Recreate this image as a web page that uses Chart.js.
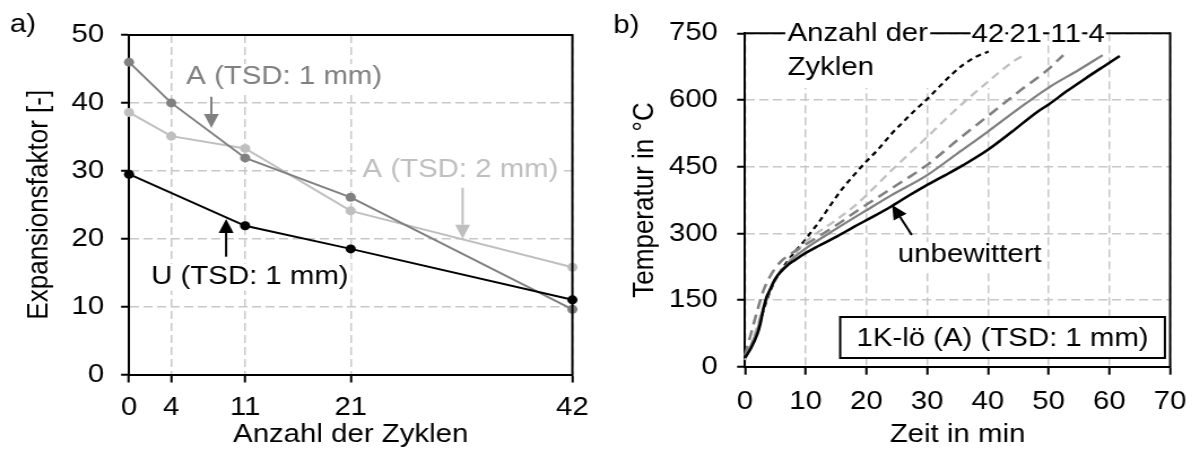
<!DOCTYPE html>
<html>
<head>
<meta charset="utf-8">
<script src="https://cdn.jsdelivr.net/npm/chart.js@4/dist/chart.umd.min.js"></script>
<style>
  html, body { margin: 0; padding: 0; background: #fff; }
  body { width: 1200px; height: 450px; position: relative; overflow: hidden; }
  /* the original figure is slightly wider than tall in its lettering: stretch each canvas a bit */
  canvas { position: absolute; top: 0; transform-origin: 0 0; transform: scaleX(1.13); }
  #chartA { left: 0; }
  #chartB { left: 600px; }
</style>
</head>
<body>
<canvas id="chartA" width="531" height="450" style="width:531px;height:450px"></canvas>
<canvas id="chartB" width="531" height="450" style="width:531px;height:450px"></canvas>
<script>
// a) Expansionsfaktor über Anzahl der Zyklen
var ZYKLEN   = [0, 4, 11, 21, 42];
var A_TSD1   = [46.0, 40.0, 31.9, 26.1, 9.6];
var A_TSD2   = [38.6, 35.1, 33.3, 24.1, 15.8];
var U_ZYKLEN = [0, 11, 21, 42];
var U_TSD1   = [29.5, 21.9, 18.5, 11.0];
var X_TICKS_A = [0, 4, 11, 21, 42];

// b) Temperaturverlauf, 1K-lö (A) (TSD: 1 mm)
var ZEIT_UNBEW = [0, 1, 2, 2.5, 3, 3.5, 4, 5, 6, 7, 8, 10, 12, 15, 18, 21, 24, 27, 30, 33, 36, 40, 44, 48, 50, 53, 56, 59, 61.7];
var TEMP_UNBEW = [20, 42, 72, 95, 128, 155, 170, 198, 215, 228, 238, 256, 271, 292, 315, 337, 360, 385, 409, 431, 454, 488, 529, 572, 590, 620, 648, 675, 699];
var ZEIT_4  = [0, 1, 2, 3, 4, 5, 6, 8, 10, 15, 20, 24, 30, 35, 40, 45, 50, 55, 58.9];
var TEMP_4  = [22, 48, 82, 130, 168, 198, 217, 245, 266, 310, 352, 385, 431, 480, 529, 580, 628, 668, 701];
var ZEIT_11 = [0, 1, 2, 3, 4, 5, 6, 8, 10, 15, 18.6, 24, 30, 35, 40, 45, 50, 52.4];
var TEMP_11 = [25, 75, 125, 170, 200, 222, 238, 258, 275, 318, 352, 400, 454, 510, 564, 618, 670, 701];
var ZEIT_21 = [0, 1, 2, 3, 4, 5, 6, 8, 10, 15, 18.6, 24, 30, 35, 40, 44, 46.3];
var TEMP_21 = [15, 50, 90, 135, 170, 197, 215, 250, 281, 330, 368, 440, 517, 582, 641, 685, 704];
var ZEIT_42 = [0, 1, 2, 3, 4, 5, 6, 8, 10, 11, 12, 14, 16, 18, 20, 22, 24, 26, 28, 30, 32, 34, 36, 38, 40.1];
var TEMP_42 = [20, 45, 80, 125, 165, 195, 218, 255, 287, 305, 322, 362, 400, 432, 462, 490, 522, 550, 577, 602, 630, 657, 680, 697, 709];
var ZYKLEN_LABELS = ["42", "21", "11", "4"];
var ZYKLEN_LABEL_T = [40.0, 46.2, 52.8, 57.9];

var S = 1.13;  // horizontal stretch (see CSS)
var FONT = '"Liberation Sans", Arial, sans-serif';
var F26 = "26px " + FONT;
var GRID = "#c8c8c8";
var DARK = "#808080", LIGHT = "#bfbfbf";

// annotation texts of panel a, positions in data units
var NOTES_A = [
  { text: "A (TSD: 1 mm)", color: DARK,   at: [14.7, 43.8], from: [7.8, 40.9], to: [7.8, 36.3] },
  { text: "A (TSD: 2 mm)", color: LIGHT,  at: [31.4, 30.1], from: [31.6, 27.5], to: [31.6, 20.0] },
  { text: "U (TSD: 1 mm)", color: "#000", at: [11.45, 14.4], from: [9.2, 17.35], to: [9.2, 22.9] }
];

function arrow(ctx, x1, y1, x2, y2, color) {
  var ang = Math.atan2(y2 - y1, x2 - x1), L = 14, W = 6.6;
  var bx = x2 - L * Math.cos(ang), by = y2 - L * Math.sin(ang);
  ctx.save();
  ctx.strokeStyle = color; ctx.fillStyle = color; ctx.lineWidth = 2;
  ctx.beginPath(); ctx.moveTo(x1, y1); ctx.lineTo(bx, by); ctx.stroke();
  ctx.beginPath(); ctx.moveTo(x2, y2);
  ctx.lineTo(bx + W * Math.sin(ang), by - W * Math.cos(ang));
  ctx.lineTo(bx - W * Math.sin(ang), by + W * Math.cos(ang));
  ctx.closePath(); ctx.fill();
  ctx.restore();
}

// centred text on a white patch (hides the grid behind it)
function label(ctx, text, x, y, color) {
  var w = ctx.measureText(text).width;
  ctx.fillStyle = "#fff";
  ctx.fillRect(x - w / 2 - 2, y - 13, w + 4, 27);
  ctx.fillStyle = color;
  ctx.fillText(text, x, y);
}

function axisX(min, max, step, tickVals, title, height, pad) {
  var o = {
    type: "linear", position: "bottom", min: min, max: max,
    afterFit: function (s) { s.height = height; },
    grid: { color: GRID, lineWidth: 1.5, tickLength: 8, tickColor: "#000", tickWidth: 2 },
    border: { color: "#000", width: 2, dash: [8, 4] },
    ticks: { color: "#000", font: { family: FONT, size: 26 }, padding: pad, autoSkip: false, maxRotation: 0, stepSize: step },
    title: { display: true, text: title, color: "#000", font: { family: FONT, size: 26 }, padding: { top: 0, bottom: 0 } }
  };
  if (tickVals) o.afterBuildTicks = function (s) { s.ticks = tickVals.map(function (v) { return { value: v }; }); };
  return o;
}

function axisY(min, max, step, title, width, pad, titlePad) {
  return {
    type: "linear", position: "left", min: min, max: max,
    afterFit: function (s) { s.width = width; },
    grid: { color: GRID, lineWidth: 1.5, tickLength: 7, tickColor: "#000", tickWidth: 2 },
    border: { color: "#000", width: 2, dash: [8, 4] },
    ticks: { color: "#000", font: { family: FONT, size: 26 }, padding: pad, stepSize: step },
    title: { display: true, text: title, color: "#000", font: { family: FONT, size: 26 }, padding: { top: titlePad, bottom: 0 } }
  };
}

function pts(xs, ys) { return xs.map(function (x, i) { return { x: x, y: ys[i] }; }); }

function marked(name, xs, ys, color) {
  return { label: name, data: pts(xs, ys), borderColor: color, backgroundColor: color, borderWidth: 2,
           pointRadius: 4.5, pointBorderWidth: 0, pointBackgroundColor: color, tension: 0, clip: false };
}

function curve(name, xs, ys, color, width, dash) {
  return { label: name, data: pts(xs, ys), borderColor: color, borderWidth: width, borderDash: dash,
           pointRadius: 0, cubicInterpolationMode: "monotone", fill: false, clip: false };
}

var panelA = {
  id: "panelA",
  afterDraw: function (c) {
    var ctx = c.ctx, a = c.chartArea, xs = c.scales.x, ys = c.scales.y;
    ctx.save();
    ctx.strokeStyle = "#000"; ctx.lineWidth = 2;
    ctx.beginPath(); ctx.moveTo(a.left, a.top); ctx.lineTo(a.right, a.top); ctx.stroke();
    ctx.beginPath(); ctx.moveTo(a.right, a.top - 1); ctx.lineTo(a.right, a.bottom); ctx.stroke();
    ctx.font = F26; ctx.textAlign = "center"; ctx.textBaseline = "middle";
    NOTES_A.forEach(function (n) {
      label(ctx, n.text, xs.getPixelForValue(n.at[0]), ys.getPixelForValue(n.at[1]), n.color);
      arrow(ctx, xs.getPixelForValue(n.from[0]), ys.getPixelForValue(n.from[1]),
            xs.getPixelForValue(n.to[0]), ys.getPixelForValue(n.to[1]), n.color);
    });
    ctx.fillStyle = "#000"; ctx.textAlign = "left";
    ctx.fillText("a)", 10 / S, 25);
    ctx.restore();
  }
};

var panelB = {
  id: "panelB",
  beforeDatasetsDraw: function (c) {
    // white field behind the "Anzahl der Zyklen" note
    var ctx = c.ctx, xs = c.scales.x, ys = c.scales.y;
    var x0 = xs.getPixelForValue(6.5), x1 = xs.getPixelForValue(41.2);
    var y0 = c.chartArea.top + 2, y1 = ys.getPixelForValue(627);
    ctx.save(); ctx.fillStyle = "#fff"; ctx.fillRect(x0, y0, x1 - x0, y1 - y0);
    // and behind "unbewittert"
    ctx.font = F26; ctx.textAlign = "center"; ctx.textBaseline = "middle";
    label(ctx, "unbewittert", xs.getPixelForValue(37.0), ys.getPixelForValue(250.7), "#000");
    ctx.restore();
  },
  afterDraw: function (c) {
    var ctx = c.ctx, a = c.chartArea, xs = c.scales.x, ys = c.scales.y;
    ctx.save();
    ctx.strokeStyle = "#000"; ctx.lineWidth = 2;
    ctx.beginPath(); ctx.moveTo(a.left, a.top); ctx.lineTo(a.right, a.top); ctx.stroke();
    ctx.beginPath(); ctx.moveTo(a.right, a.top - 1); ctx.lineTo(a.right, a.bottom); ctx.stroke();

    ctx.font = F26; ctx.textBaseline = "middle";
    // "Anzahl der / Zyklen" at the top left of the plot
    var ax = xs.getPixelForValue(7.0), ay = ys.getPixelForValue(748);
    var w = ctx.measureText("Anzahl der").width;
    ctx.fillStyle = "#fff"; ctx.fillRect(ax - 2, ay - 12, w + 4, 24);
    ctx.fillStyle = "#000"; ctx.textAlign = "left";
    ctx.fillText("Anzahl der", ax, ay);
    ctx.fillText("Zyklen", ax, ys.getPixelForValue(671.5));

    // cycle numbers at the curve ends, sitting on the top frame
    ctx.textAlign = "center";
    var ly = ys.getPixelForValue(746);
    ZYKLEN_LABELS.forEach(function (t, i) {
      var lx = xs.getPixelForValue(ZYKLEN_LABEL_T[i]);
      var tw = ctx.measureText(t).width;
      ctx.fillStyle = "#fff"; ctx.fillRect(lx - tw / 2 - 1, ly - 11, tw + 2, 22);
      ctx.fillStyle = "#000"; ctx.fillText(t, lx, ly);
    });

    // unbewittert arrow
    arrow(ctx, xs.getPixelForValue(27.46), ys.getPixelForValue(296.3),
          xs.getPixelForValue(24.23), ys.getPixelForValue(363.8), "#000");

    // material box
    var bx0 = xs.getPixelForValue(15.67), bx1 = xs.getPixelForValue(69.14);
    var by0 = ys.getPixelForValue(111.8), by1 = ys.getPixelForValue(19.6);
    ctx.fillStyle = "#fff"; ctx.fillRect(bx0, by0, bx1 - bx0, by1 - by0);
    ctx.lineWidth = 2; ctx.strokeRect(bx0, by0, bx1 - bx0, by1 - by0);
    ctx.fillStyle = "#000";
    ctx.fillText("1K-lö (A) (TSD: 1 mm)", (bx0 + bx1) / 2, (by0 + by1) / 2 + 1);

    ctx.textAlign = "left";
    ctx.fillText("b)", 13.3 / S, 26);
    ctx.restore();
  }
};

new Chart(document.getElementById("chartA"), {
  type: "line",
  data: { datasets: [
    marked("U (TSD: 1 mm)", U_ZYKLEN, U_TSD1, "#000"),
    marked("A (TSD: 1 mm)", ZYKLEN, A_TSD1, DARK),
    marked("A (TSD: 2 mm)", ZYKLEN, A_TSD2, LIGHT)
  ] },
  plugins: [panelA],
  options: {
    responsive: false, animation: false, devicePixelRatio: 1,
    layout: { padding: { left: 0, right: 531 - 576 / S, top: 35, bottom: 0 } },
    plugins: { legend: { display: false }, tooltip: { enabled: false } },
    scales: {
      x: axisX(0, 42, null, X_TICKS_A, "Anzahl der Zyklen", 75.5, 10),
      y: axisY(0, 50, 10, "Expansionsfaktor [-]", 129 / S, 15, 19)
    }
  }
});

new Chart(document.getElementById("chartB"), {
  type: "line",
  data: { datasets: [
    curve("unbewittert", ZEIT_UNBEW, TEMP_UNBEW, "#000", 2.5, []),
    curve("4", ZEIT_4, TEMP_4, DARK, 2.2, []),
    curve("11", ZEIT_11, TEMP_11, DARK, 2.5, [10, 6]),
    curve("21", ZEIT_21, TEMP_21, LIGHT, 2.2, [8, 5]),
    curve("42", ZEIT_42, TEMP_42, "#000", 2.2, [5, 4])
  ] },
  plugins: [panelB],
  options: {
    responsive: false, animation: false, devicePixelRatio: 1,
    layout: { padding: { left: 0, right: 531 - 578 / S, top: 33.3, bottom: 0 } },
    plugins: { legend: { display: false }, tooltip: { enabled: false } },
    scales: {
      x: axisX(0, 70, 10, null, "Zeit in min", 83.3, 12),
      y: axisY(0, 750, 150, "Temperatur in °C", 145 / S, 17, 24)
    }
  }
});
</script>
</body>
</html>
